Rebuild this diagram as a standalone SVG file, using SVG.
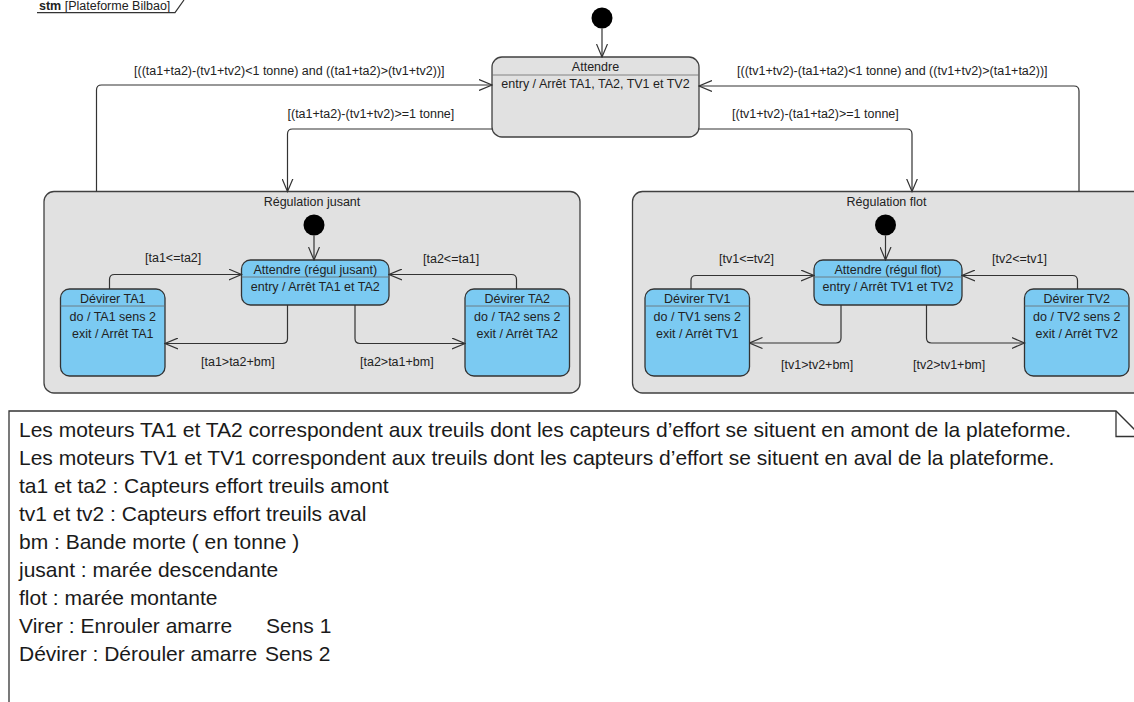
<svg xmlns="http://www.w3.org/2000/svg" width="1134" height="702" viewBox="0 0 1134 702">
<defs>
<style>
text{font-family:"Liberation Sans",Arial,sans-serif;fill:#222}
.t{font-size:12.5px}
.c{text-anchor:middle}
.n{font-size:21px;fill:#1a1a1a}
.gray{fill:#e1e1e1;stroke:#404040;stroke-width:1.3}
.blue{fill:#7bcaf2;stroke:#333;stroke-width:1.3}
.sep{stroke:#6a6a6a;stroke-width:0.8}
.edge{fill:none;stroke:#333;stroke-width:1.2;marker-end:url(#arr)}
.dot{fill:#000}
</style>
<marker id="arr" viewBox="0 0 14 12" refX="13" refY="6" markerWidth="14" markerHeight="12" markerUnits="userSpaceOnUse" orient="auto">
<polyline points="0,0.5 13,6 0,11.5" fill="none" stroke="#333" stroke-width="1.2"/>
</marker>
</defs>
<rect width="1134" height="702" fill="#fff"/>

<g id="frame">
<text class="t" x="39" y="9.5"><tspan font-weight="bold">stm</tspan> [Plateforme Bilbao]</text>
<polyline points="37,12.7 175,12.7 184,0" fill="none" stroke="#333" stroke-width="1.2"/>
</g>

<g id="reg-jusant">
<rect class="gray" x="44" y="191.5" width="536" height="201.5" rx="10"/>
<text class="t c" x="312" y="206">Régulation jusant</text>
</g>
<g id="reg-flot">
<rect class="gray" x="632.5" y="191.5" width="520" height="201.5" rx="10"/>
<text class="t c" x="886.5" y="206">Régulation flot</text>
</g>

<g id="init-top"><circle class="dot" cx="602" cy="18" r="10.5"/></g>
<g id="attendre">
<rect class="gray" x="492" y="57" width="207" height="80" rx="10"/>
<line class="sep" x1="492" y1="75" x2="699" y2="75"/>
<text class="t c" x="595.5" y="71">Attendre</text>
<text class="t c" x="595.5" y="88">entry / Arrêt TA1, TA2, TV1 et TV2</text>
</g>

<g id="init-jusant"><circle class="dot" cx="314" cy="225" r="10.5"/></g>
<g id="attendre-jusant">
<rect class="blue" x="241.5" y="260" width="147.5" height="45" rx="9"/>
<line class="sep" x1="241.5" y1="277" x2="389" y2="277"/>
<text class="t c" x="315.25" y="273.5">Attendre (régul jusant)</text>
<text class="t c" x="315.25" y="291">entry / Arrêt TA1 et TA2</text>
</g>
<g id="devirer-ta1">
<rect class="blue" x="60.5" y="289" width="104.5" height="87" rx="9"/>
<line class="sep" x1="60.5" y1="306" x2="165" y2="306"/>
<text class="t c" x="112.75" y="303">Dévirer TA1</text>
<text class="t c" x="112.75" y="320.5">do / TA1 sens 2</text>
<text class="t c" x="112.75" y="338">exit / Arrêt TA1</text>
</g>
<g id="devirer-ta2">
<rect class="blue" x="465" y="289" width="104.5" height="87" rx="9"/>
<line class="sep" x1="465" y1="306" x2="569.5" y2="306"/>
<text class="t c" x="517.25" y="303">Dévirer TA2</text>
<text class="t c" x="517.25" y="320.5">do / TA2 sens 2</text>
<text class="t c" x="517.25" y="338">exit / Arrêt TA2</text>
</g>

<g id="init-flot"><circle class="dot" cx="885.5" cy="225" r="10.5"/></g>
<g id="attendre-flot">
<rect class="blue" x="814" y="260" width="148" height="45" rx="9"/>
<line class="sep" x1="814" y1="277" x2="962" y2="277"/>
<text class="t c" x="888" y="273.5">Attendre (régul flot)</text>
<text class="t c" x="888" y="291">entry / Arrêt TV1 et TV2</text>
</g>
<g id="devirer-tv1">
<rect class="blue" x="645" y="289" width="104.5" height="87" rx="9"/>
<line class="sep" x1="645" y1="306" x2="749.5" y2="306"/>
<text class="t c" x="697.25" y="303">Dévirer TV1</text>
<text class="t c" x="697.25" y="320.5">do / TV1 sens 2</text>
<text class="t c" x="697.25" y="338">exit / Arrêt TV1</text>
</g>
<g id="devirer-tv2">
<rect class="blue" x="1024.5" y="289" width="104.5" height="87" rx="9"/>
<line class="sep" x1="1024.5" y1="306" x2="1129" y2="306"/>
<text class="t c" x="1076.75" y="303">Dévirer TV2</text>
<text class="t c" x="1076.75" y="320.5">do / TV2 sens 2</text>
<text class="t c" x="1076.75" y="338">exit / Arrêt TV2</text>
</g>

<g id="connectors">
<path class="edge" d="M602,28.5 V57"/>
<path class="edge" d="M96.5,191.5 V90 Q96.5,85 101.5,85 H492"/>
<path class="edge" d="M492,129 H292.5 Q287.5,129 287.5,134 V191.5"/>
<path class="edge" d="M1079,191.5 V91 Q1079,86 1074,86 H699"/>
<path class="edge" d="M699,129 H907 Q912,129 912,134 V191.5"/>
<path class="edge" d="M314,235.5 V260"/>
<path class="edge" d="M109.5,289 V279.5 Q109.5,274.5 114.5,274.5 H241.5"/>
<path class="edge" d="M516.5,289 V279.5 Q516.5,274.5 511.5,274.5 H389"/>
<path class="edge" d="M287.5,305 V338.5 Q287.5,343.5 282.5,343.5 H165"/>
<path class="edge" d="M355,305 V338.5 Q355,343.5 360,343.5 H465"/>
<path class="edge" d="M885.5,235.5 V260"/>
<path class="edge" d="M691,289 V280.5 Q691,275.5 696,275.5 H814"/>
<path class="edge" d="M1077.5,289 V280.5 Q1077.5,275.5 1072.5,275.5 H962"/>
<path class="edge" d="M841,305 V338 Q841,343 836,343 H749.5"/>
<path class="edge" d="M926.5,305 V338 Q926.5,343 931.5,343 H1024.5"/>
<text class="t" x="134" y="75">[((ta1+ta2)-(tv1+tv2)&lt;1 tonne) and ((ta1+ta2)&gt;(tv1+tv2))]</text>
<text class="t" x="287.5" y="118">[(ta1+ta2)-(tv1+tv2)&gt;=1 tonne]</text>
<text class="t" x="737" y="75">[((tv1+tv2)-(ta1+ta2)&lt;1 tonne) and ((tv1+tv2)&gt;(ta1+ta2))]</text>
<text class="t" x="732" y="118">[(tv1+tv2)-(ta1+ta2)&gt;=1 tonne]</text>
<text class="t" x="145" y="262">[ta1&lt;=ta2]</text>
<text class="t" x="423" y="263">[ta2&lt;=ta1]</text>
<text class="t" x="201" y="366">[ta1&gt;ta2+bm]</text>
<text class="t" x="360" y="366">[ta2&gt;ta1+bm]</text>
<text class="t" x="719" y="263">[tv1&lt;=tv2]</text>
<text class="t" x="992" y="263">[tv2&lt;=tv1]</text>
<text class="t" x="781" y="369">[tv1&gt;tv2+bm]</text>
<text class="t" x="913" y="369">[tv2&gt;tv1+bm]</text>
</g>

<g id="note">
<path d="M9,710 V411 H1116 L1145,440 V710" fill="#fff" stroke="#333" stroke-width="1.3"/>
<polyline points="1116,411 1116,436.5 1145,436.5" fill="none" stroke="#333" stroke-width="1.3"/>
<text class="n" x="19" y="437">Les moteurs TA1 et TA2 correspondent aux treuils dont les capteurs d’effort se situent en amont de la plateforme.</text>
<text class="n" x="19" y="465">Les moteurs TV1 et TV1 correspondent aux treuils dont les capteurs d’effort se situent en aval de la plateforme.</text>
<text class="n" x="19" y="493">ta1 et ta2 : Capteurs effort treuils amont</text>
<text class="n" x="19" y="521">tv1 et tv2 : Capteurs effort treuils aval</text>
<text class="n" x="19" y="549">bm : Bande morte ( en tonne )</text>
<text class="n" x="19" y="577">jusant : marée descendante</text>
<text class="n" x="19" y="605">flot : marée montante</text>
<text class="n" x="19" y="633">Virer : Enrouler amarre<tspan x="266">Sens 1</tspan></text>
<text class="n" x="19" y="661">Dévirer : Dérouler amarre<tspan x="265">Sens 2</tspan></text>
</g>
</svg>
